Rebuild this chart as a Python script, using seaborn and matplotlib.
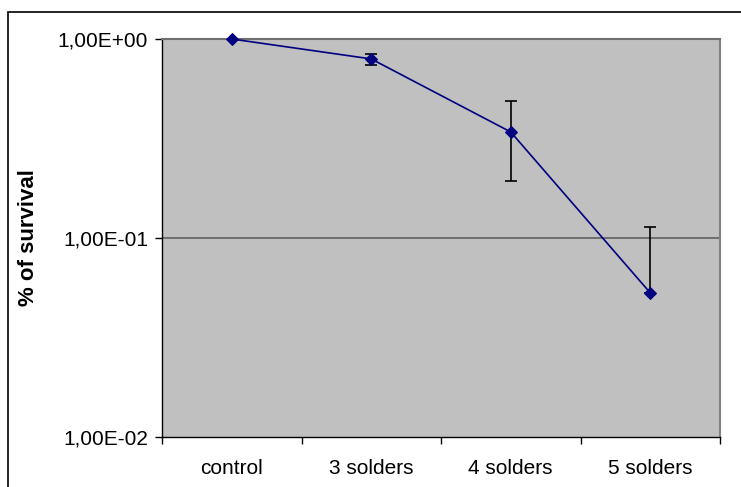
import matplotlib
matplotlib.use("Agg")
import matplotlib.pyplot as plt
import matplotlib.patches as mpatches
import seaborn as sns
import numpy as np
import pandas as pd

categories = ["control", "3 solders", "4 solders", "5 solders"]
survival = [1.0, 0.794, 0.341, 0.053]
errors = [0.0, 0.05, 0.147, 0.06]
ytick_values = [0.01, 0.1, 1.0]
ytick_labels = ["1,00E-02", "1,00E-01", "1,00E+00"]
ylabel = "% of survival"

sns.set_theme(style="white")
plt.rcParams["font.family"] = ["Liberation Sans", "DejaVu Sans"]

df = pd.DataFrame({"cat": categories, "val": survival, "err": errors})

fig = plt.figure(figsize=(7.41, 4.87), dpi=100)
ax = fig.add_axes([162/741, 1-437/487, (720-162)/741, (437-39)/487])
ax.set_facecolor("#C0C0C0")

xpos = np.arange(len(categories))
vals = np.array(survival)
errs = np.array(errors)
lower = np.where(vals - errs > 0, errs, 0.0)
ax.errorbar(xpos, vals, yerr=[lower, errs], fmt="none", ecolor="black",
            elinewidth=1.2, capsize=4.5, capthick=1.2, zorder=3)

sns.lineplot(data=df, x="cat", y="val", ax=ax, color="#000080", linewidth=1.2,
             marker="D", markersize=6, markeredgecolor="#000080", zorder=4,
             sort=False, clip_on=False)

ax.set_yscale("log")
ax.set_ylim(0.01, 1.0)
ax.set_xlim(-0.5, len(categories) - 0.5)

ax.yaxis.set_major_locator(matplotlib.ticker.FixedLocator(ytick_values))
ax.yaxis.set_minor_locator(matplotlib.ticker.NullLocator())
ax.set_yticklabels(ytick_labels)
ax.axhline(0.1, color="#606060", linewidth=1.2, zorder=1)

ax.set_xticks(np.arange(-0.5, len(categories)), minor=False)
ax.set_xticklabels([""] * (len(categories) + 1))
ax.set_xticks(xpos, minor=True)
ax.set_xticklabels(categories, minor=True)
ax.tick_params(axis="x", which="major", direction="out", length=5, width=1, color="black", bottom=True)
ax.tick_params(axis="x", which="minor", length=0, labelsize=15, pad=16, labelcolor="black")
ax.tick_params(axis="y", which="major", direction="out", length=5, width=1, color="black",
               left=True, labelsize=15, labelcolor="black", pad=5)

ax.set_xlabel("")
ax.set_ylabel(ylabel, fontsize=16, fontweight="bold", color="black")
ax.yaxis.set_label_coords((39 - 162) / 558, 0.5)

for side in ["left", "bottom"]:
    ax.spines[side].set_color("black")
    ax.spines[side].set_linewidth(1.0)
for side in ["top", "right"]:
    ax.spines[side].set_color("#808080")
    ax.spines[side].set_linewidth(1.5)
ax.spines["top"].set_color("#707070")

border = mpatches.Rectangle((8/741, -0.05), 1.2, 1 - 12/487 + 0.05,
                            transform=fig.transFigure, fill=False,
                            edgecolor="black", linewidth=1.2, clip_on=False)
fig.patches.append(border)

fig.savefig("out.png", dpi=100)
